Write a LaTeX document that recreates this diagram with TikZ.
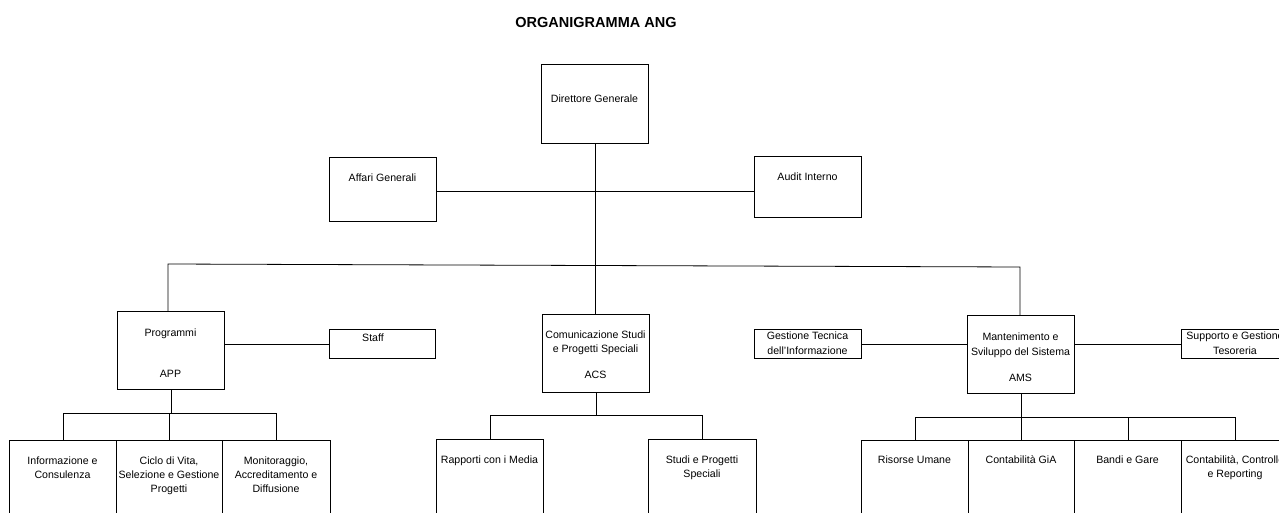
\documentclass[tikz,border=0pt]{standalone}
\usepackage{fontspec}
\setmainfont{Liberation Sans}
\begin{document}
\begin{tikzpicture}[x=1pt,y=-1pt,
  box/.style={draw=black, line width=0.8pt, inner sep=0pt, anchor=north west, rectangle},
  txt/.style={font=\fontsize{10.6}{14}\selectfont, align=center, inner sep=0pt, anchor=base},
  link/.style={draw=black, line width=0.8pt}]
\useasboundingbox (0,0) rectangle (1279,513);
\clip (0,0) rectangle (1279,513);
% title
\node[font=\fontsize{14.5}{16}\selectfont\bfseries, inner sep=0pt, anchor=base] (title) at (596,28) {ORGANIGRAMMA ANG};
% boxes
\node[box, minimum width=107, minimum height=79] (dg) at (541,64) {};
\node[box, minimum width=107, minimum height=64] (ag) at (329,157) {};
\node[box, minimum width=107, minimum height=61] (ai) at (754,156) {};
\node[box, minimum width=107, minimum height=78] (prog) at (117,311) {};
\node[box, minimum width=106, minimum height=29] (staff) at (329,329) {};
\node[box, minimum width=107, minimum height=78] (acs) at (542,314) {};
\node[box, minimum width=107, minimum height=29] (gti) at (754,329) {};
\node[box, minimum width=107, minimum height=78] (ams) at (967,315) {};
\node[box, minimum width=108, minimum height=29] (sup) at (1181,329) {};
\node[box, minimum width=107, minimum height=100] (inf) at (9,440) {};
\node[box, minimum width=106, minimum height=100] (cic) at (116,440) {};
\node[box, minimum width=108, minimum height=100] (mon) at (222,440) {};
\node[box, minimum width=107, minimum height=100] (rap) at (436,439) {};
\node[box, minimum width=108, minimum height=100] (stu) at (648,439) {};
\node[box, minimum width=107, minimum height=100] (ris) at (861,440) {};
\node[box, minimum width=106, minimum height=100] (gia) at (968,440) {};
\node[box, minimum width=107, minimum height=100] (ban) at (1074,440) {};
\node[box, minimum width=108, minimum height=100] (con) at (1181,440) {};
% texts (anchor base = baseline of the last line)
\node[txt] (dg-t) at (594.5,103) {Direttore Generale};
\node[txt] (ag-t) at (382.5,182) {Affari Generali};
\node[txt] (ai-t) at (807.5,181) {Audit Interno};
\node[txt] (prog-t) at (170.5,377) {Programmi\\[27pt]APP};
\node[txt] (staff-t) at (373,341) {Staff};
\node[txt] (acs-t) at (595.5,378) {Comunicazione Studi\\e Progetti Speciali\\[12pt]ACS};
\node[txt] (gti-t) at (807.5,354) {Gestione Tecnica\\[1pt]dell'Informazione};
\node[txt] (ams-t) at (1020.5,381) {Mantenimento e\\[1pt]Sviluppo del Sistema\\[12pt]AMS};
\node[txt] (sup-t) at (1235,354) {Supporto e Gestione\\[1pt]Tesoreria};
\node[txt] (inf-t) at (62.5,478) {Informazione e\\Consulenza};
\node[txt] (cic-t) at (169,492) {Ciclo di Vita,\\Selezione e Gestione\\Progetti};
\node[txt] (mon-t) at (276,492) {Monitoraggio,\\Accreditamento e\\Diffusione};
\node[txt] (rap-t) at (489.5,463) {Rapporti con i Media};
\node[txt] (stu-t) at (702,477) {Studi e Progetti\\Speciali};
\node[txt] (ris-t) at (914.5,463) {Risorse Umane};
\node[txt] (gia-t) at (1021,463) {Contabilità GiA};
\node[txt] (ban-t) at (1127.5,463) {Bandi e Gare};
\node[txt] (con-t) at (1235,477) {Contabilità, Controllo\\e Reporting};
% helper coordinates
\coordinate (hbar) at (593,191);
\coordinate (tl) at (168,264);
\coordinate (tr) at (1020,267);
\coordinate (pbar) at (0,413);
\coordinate (cbar) at (0,415);
\coordinate (mbar) at (0,417);
% connectors
\draw[link] (dg.south) -- (dg.south |- acs.north);
\draw[link] (ag.east |- hbar) -- (ai.west |- hbar);
\draw[link] (tl |- prog.north) -- (tl) -- (tr) -- (tr |- ams.north);
\draw[link] (staff.west -| prog.east) -- (staff.west);
\draw[link] (gti.east) -- (gti.east -| ams.west);
\draw[link] (ams.east |- sup.west) -- (sup.west);
% APP children
\draw[link] (prog.south) -- (prog.south |- pbar);
\draw[link] (inf.north) -- (inf.north |- pbar) -- (mon.north |- pbar) -- (mon.north);
\draw[link] (cic.north |- pbar) -- (cic.north);
% ACS children
\draw[link] (acs.south) -- (acs.south |- cbar);
\draw[link] (rap.north) -- (rap.north |- cbar) -- (stu.north |- cbar) -- (stu.north);
% AMS children
\draw[link] (ams.south) -- (ams.south |- mbar);
\draw[link] (ris.north) -- (ris.north |- mbar) -- (con.north |- mbar) -- (con.north);
\draw[link] (gia.north |- mbar) -- (gia.north);
\draw[link] (ban.north |- mbar) -- (ban.north);
\end{tikzpicture}
\end{document}
